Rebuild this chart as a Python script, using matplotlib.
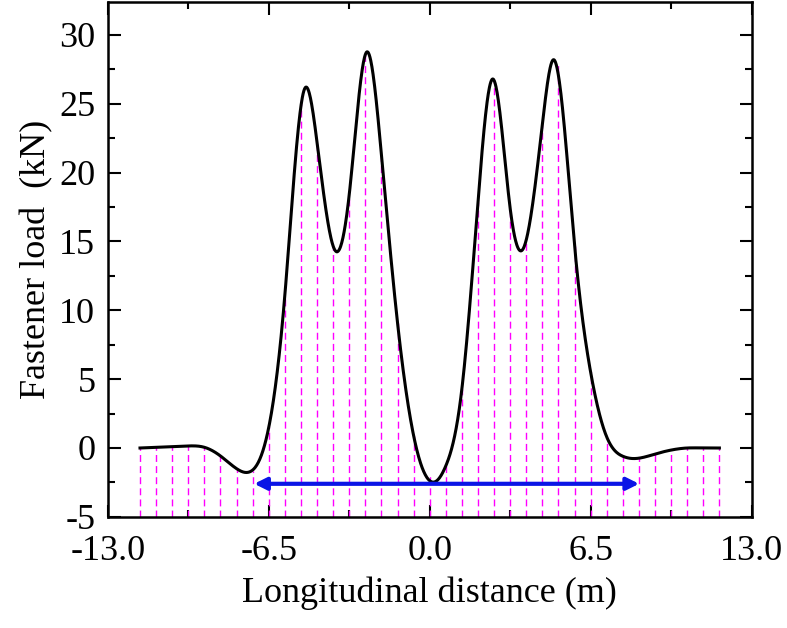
import numpy as np
import matplotlib
matplotlib.use("Agg")
import matplotlib.pyplot as plt
from matplotlib.ticker import MultipleLocator

# fastener positions (m) and loads read at each (kN)
fastener_x = [-11.7, -11.05, -10.4, -9.75, -9.1, -8.45, -7.8, -7.15, -6.5, -5.85, -5.2, -4.55,
              -3.9, -3.25, -2.6, -1.95, -1.3, -0.65, 0.0, 0.65, 1.3, 1.95, 2.6, 3.25, 3.9,
              4.55, 5.2, 5.85, 6.5, 7.15, 7.8, 8.45, 9.1, 9.75, 10.4, 11.05, 11.7]
fastener_load = [0.0, 0.05, 0.1, 0.15, 0.05, -0.58, -1.5, -1.68, 1.5, 11.1, 25.3, 22.2,
                 14.7, 18.4, 28.7, 21.3, 9.1, 0.9, -1.9, -1.3, 4.3, 17.9, 26.7, 17.4, 15.0,
                 23.5, 27.8, 14.7, 5.5, 0.8, -0.6, -0.73, -0.44, -0.15, 0.0, 0.0, 0.0]
# extra read-off points on the curve (extrema)
extra_x = [-7.3, -5.05, -3.8, -2.55, 0.27, 2.55, 3.75, 5.0, 8.1]
extra_y = [-1.75, 26.1, 14.3, 28.75, -2.4, 26.8, 14.4, 28.2, -0.75]

arrow_y = -2.6
arrow_x = [-7.2, 8.57]
xticks = [-13.0, -6.5, 0.0, 6.5, 13.0]
yticks = [-5, 0, 5, 10, 15, 20, 25, 30]

# smooth curve through read points (natural cubic spline, for drawing only)
skip = {-7.15, -5.2, -3.9, -2.6, 0.0, 2.6, 3.9, 5.2, 8.45}
px = np.array([x for x in fastener_x if x not in skip] + extra_x)
py = np.array([y for x, y in zip(fastener_x, fastener_load) if x not in skip] + extra_y)
o = np.argsort(px); px, py = px[o], py[o]
n = len(px); h = np.diff(px)
A = np.zeros((n, n)); b = np.zeros(n)
A[0, 0] = A[-1, -1] = 1
for i in range(1, n - 1):
    A[i, i-1] = h[i-1]; A[i, i] = 2*(h[i-1]+h[i]); A[i, i+1] = h[i]
    b[i] = 6*((py[i+1]-py[i])/h[i] - (py[i]-py[i-1])/h[i-1])
M = np.linalg.solve(A, b)
cx = np.linspace(px[0], px[-1], 1500)
k = np.clip(np.searchsorted(px, cx) - 1, 0, n - 2)
t1 = px[k+1] - cx; t0 = cx - px[k]; hk = h[k]
cy = (M[k]*t1**3 + M[k+1]*t0**3)/(6*hk) + (py[k]/hk - M[k]*hk/6)*t1 + (py[k+1]/hk - M[k+1]*hk/6)*t0

plt.rcParams['font.family'] = 'Liberation Serif'
plt.rcParams['axes.unicode_minus'] = False
fig = plt.figure(figsize=(7.87, 6.28), dpi=100)
ax = fig.add_axes([0.137, 0.177, 0.818, 0.82])

ax.vlines(fastener_x, -5, fastener_load, colors='#FF00FF', linestyles=(0, (5, 3)), lw=1.0)
ax.plot(cx, cy, color='black', lw=2.2)
ax.annotate('', xy=(arrow_x[0], arrow_y), xytext=(arrow_x[1], arrow_y),
            arrowprops=dict(arrowstyle='<|-|>', color='#0A14E6', lw=3, mutation_scale=18))

ax.set_xlim(-13, 13)
ax.set_ylim(-5, 32.4)
ax.set_xticks(xticks)
ax.set_xticklabels([f'{v:.1f}' for v in xticks])
ax.set_yticks(yticks)
ax.xaxis.set_minor_locator(MultipleLocator(3.25))
ax.yaxis.set_minor_locator(MultipleLocator(2.5))
ax.tick_params(which='both', direction='in', top=True, right=True, labelsize=26, width=1.5)
ax.tick_params(which='major', length=9)
ax.tick_params(axis='y', which='major', pad=9)
ax.tick_params(axis='x', which='major', pad=13)
ax.tick_params(which='minor', length=5)
for s in ax.spines.values():
    s.set_linewidth(1.8)
ax.set_xlabel('Longitudinal distance (m)', fontsize=26, labelpad=6)
ax.set_ylabel('Fastener load  (kN)', fontsize=26, labelpad=4)
fig.savefig('out.png', dpi=100)
